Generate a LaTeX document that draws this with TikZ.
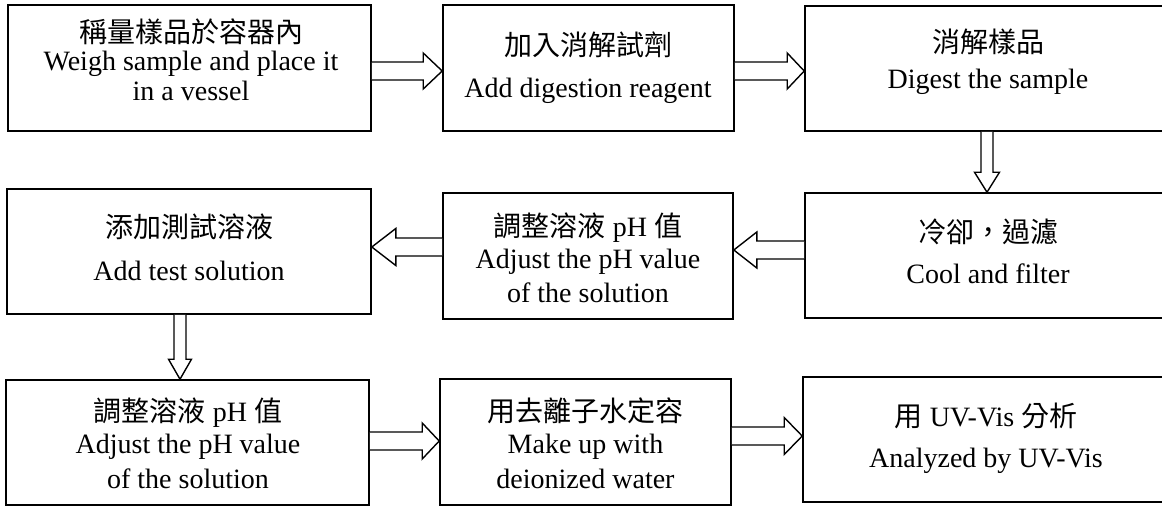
\documentclass[tikz,border=0pt]{standalone}
\usepackage{fontspec}
\setmainfont{Liberation Serif}
\newfontfamily\cjk{Noto Sans CJK TC}
\usetikzlibrary{calc}
\newcommand\hollowH[5]{%
  \draw[blockarrow] let \p1=(#1), \p2=(#2) in
    ({\x1},{\y1+#3pt}) -- ({\x2-(#5pt)},{\y1+#3pt}) -- ({\x2-(#5pt)},{\y1+#4pt}) -- ({\x2},{\y1})
    -- ({\x2-(#5pt)},{\y1-#4pt}) -- ({\x2-(#5pt)},{\y1-#3pt}) -- ({\x1},{\y1-#3pt});}
\newcommand\hollowV[5]{%
  \draw[blockarrow] let \p1=(#1), \p2=(#2) in
    ({\x1-#3pt},{\y1}) -- ({\x1-#3pt},{\y2+#5pt}) -- ({\x1-#4pt},{\y2+#5pt}) -- ({\x1},{\y2})
    -- ({\x1+#4pt},{\y2+#5pt}) -- ({\x1+#3pt},{\y2+#5pt}) -- ({\x1+#3pt},{\y1});}
\begin{document}
\begin{tikzpicture}[x=1pt,y=-1pt,
  box/.style={draw=black, line width=1.6pt, inner sep=0pt},
  txt/.style={anchor=base, inner sep=0pt, font=\fontsize{28}{34}\selectfont},
  blockarrow/.style={draw=black, line width=1.4pt, line join=miter, fill=white}]
\useasboundingbox (0,0) rectangle (1162,507);
\fill[white] (0,0) rectangle (1162,507);
% boxes
\node[box, minimum width=363pt, minimum height=126pt] (b1) at (189.5,68) {};
\node[box, minimum width=291pt, minimum height=126pt] (b2) at (588.5,68) {};
\node[box, minimum width=395pt, minimum height=125pt] (b3) at (1002.5,68.5) {};
\node[box, minimum width=395pt, minimum height=125pt] (b4) at (1002.5,255.5) {};
\node[box, minimum width=290pt, minimum height=126pt] (b5) at (588,256) {};
\node[box, minimum width=364pt, minimum height=125pt] (b6) at (189,251.5) {};
\node[box, minimum width=363pt, minimum height=125pt] (b7) at (187.5,442.5) {};
\node[box, minimum width=291pt, minimum height=126pt] (b8) at (585.5,442) {};
\node[box, minimum width=397pt, minimum height=125pt] (b9) at (1001.5,439.5) {};
% texts
\node[txt] (t1a) at (191,42) {\cjk 稱量樣品於容器內};
\node[txt] (t1b) at (191,70) {Weigh sample and place it};
\node[txt] (t1c) at (191,100) {in a vessel};
\node[txt] (t2a) at (588,55) {\cjk 加入消解試劑};
\node[txt] (t2b) at (588,97) {Add digestion reagent};
\node[txt] (t3a) at (988,52) {\cjk 消解樣品};
\node[txt] (t3b) at (988,88) {Digest the sample};
\node[txt] (t4a) at (988,242) {\cjk 冷卻，過濾};
\node[txt] (t4b) at (988,283) {Cool and filter};
\node[txt] (t5a) at (588,236) {{\cjk 調整溶液} pH {\cjk 值}};
\node[txt] (t5b) at (588,268) {Adjust the pH value};
\node[txt] (t5c) at (588,302) {of the solution};
\node[txt] (t6a) at (189,237) {\cjk 添加測試溶液};
\node[txt] (t6b) at (189,280) {Add test solution};
\node[txt] (t7a) at (188,421) {{\cjk 調整溶液} pH {\cjk 值}};
\node[txt] (t7b) at (188,453) {Adjust the pH value};
\node[txt] (t7c) at (188,488) {of the solution};
\node[txt] (t8a) at (585.5,421) {\cjk 用去離子水定容};
\node[txt] (t8b) at (585.5,453) {Make up with};
\node[txt] (t8c) at (585.5,488) {deionized water};
\node[txt] (t9a) at (986,426) {{\cjk 用} UV-Vis {\cjk 分析}};
\node[txt] (t9b) at (986,467) {Analyzed by UV-Vis};
% connectors
\hollowH{$(b1.east)+(0,3)$}{b2.west}{9}{18}{19}
\hollowH{$(b2.east)+(0,3)$}{b3.west}{9}{18}{17}
\hollowV{$(b3.south)+(-15.5,0)$}{b4.north}{6}{12.5}{20}
\hollowH{$(b4.west)+(0,-5.5)$}{b5.east}{9}{18}{-23}
\hollowH{$(b5.west)+(0,-9)$}{b6.east}{9}{18.5}{-24}
\hollowV{$(b6.south)+(-9,0)$}{b7.north}{6}{11.5}{20}
\hollowH{$(b7.east)+(0,-1.5)$}{b8.west}{9}{18}{17}
\hollowH{$(b8.east)+(0,-6)$}{b9.west}{9}{18.5}{18}
\end{tikzpicture}
\end{document}
